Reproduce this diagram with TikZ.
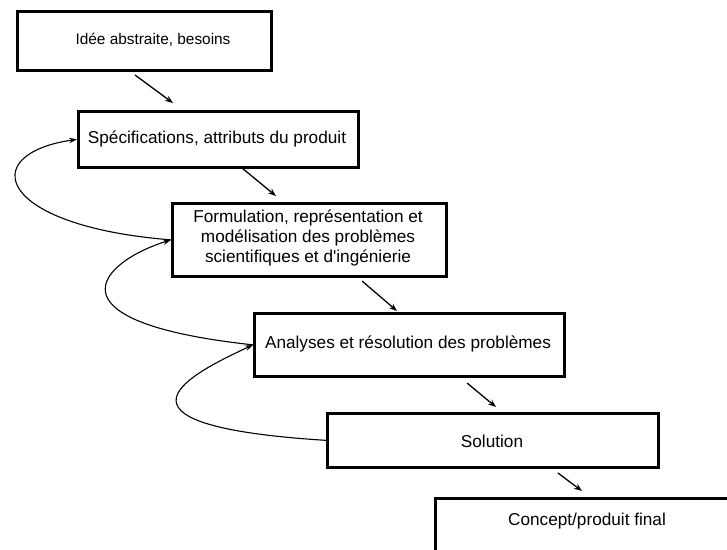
\documentclass[tikz,border=0pt]{standalone}
\usepackage{fontspec}
\setmainfont{Liberation Sans}
\usetikzlibrary{arrows.meta}
\begin{document}
\begin{tikzpicture}[x=1pt,y=-1pt,
  box/.style={draw=black, line width=2.7pt, fill=white, inner sep=0pt, anchor=north west},
  lbl/.style={font=\fontsize{17.2}{20}\selectfont, align=center, inner sep=0pt},
  flow/.style={line width=1.3pt, -{Stealth[length=8pt,width=6pt]}},
  back/.style={line width=1.1pt, -{Stealth[length=8pt,width=5.5pt]}}]
\clip (0,0) rectangle (727,549);
\fill[white] (0,0) rectangle (727,549);

% process steps
\node[box, minimum width=254pt, minimum height=59pt] (b1) at (16,10) {};
\node[box, minimum width=280pt, minimum height=56pt] (b2) at (77,110) {};
\node[box, minimum width=274pt, minimum height=73pt] (b3) at (171,202) {};
\node[box, minimum width=310pt, minimum height=63pt] (b4) at (253,312) {};
\node[box, minimum width=331pt, minimum height=54pt] (b5) at (326,412) {};
\node[box, minimum width=330pt, minimum height=90pt] (b6) at (434,497) {};

% step labels
\node[lbl, font=\fontsize{15.4}{18}\selectfont] (t1) at (153,40) {Idée abstraite, besoins};
\node[lbl] (t2) at (217,139) {Spécifications, attributs du produit};
\node[lbl] (t3) at (308,238) {Formulation, représentation et\\modélisation des problèmes\\scientifiques et d\textquotesingle ingénierie};
\node[lbl] (t4) at (408,344) {Analyses et résolution des problèmes};
\node[lbl] (t5) at (492,441) {Solution};
\node[lbl] (t6) at (587,521) {Concept/produit final};

% forward arrows between steps
\coordinate (a1s) at (135,75);  \coordinate (a1e) at (173,103);
\coordinate (a2s) at (242,168); \coordinate (a2e) at (276,196);
\coordinate (a3s) at (362,281); \coordinate (a3e) at (397,311);
\coordinate (a4s) at (467,383); \coordinate (a4e) at (496,407);
\coordinate (a5s) at (558,473); \coordinate (a5e) at (582,491);
\draw[flow] (a1s) -- (a1e);
\draw[flow] (a2s) -- (a2e);
\draw[flow] (a3s) -- (a3e);
\draw[flow] (a4s) -- (a4e);
\draw[flow] (a5s) -- (a5e);

% feedback loops
\draw[back] (b3.west) .. controls (-4,226) and (-24,154) .. (b2.west);
\draw[back] (b4.west) .. controls (41.6,322) and (100,262) .. (b3.west);
\draw[back] (b5.west) .. controls (84,425) and (195,372) .. (b4.west);
\end{tikzpicture}
\end{document}
